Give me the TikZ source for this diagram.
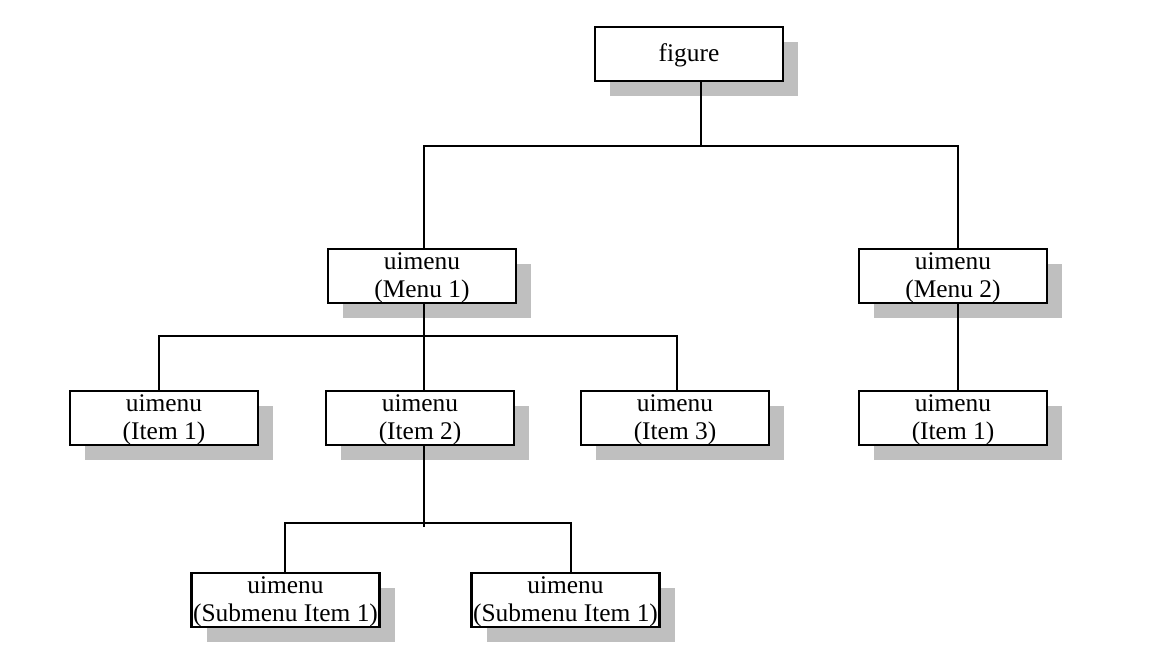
\documentclass[tikz,border=0pt]{standalone}
\usepackage{fontspec}
\setmainfont{Liberation Serif}
\usepackage{tikz}
\usetikzlibrary{shadows, calc}

\tikzset{
  menubox/.style={draw, line width=1.1pt, fill=white, minimum width=94pt, minimum height=27pt,
    inner sep=0pt, align=center, text height=24pt, text depth=2.8pt,
    font=\fontsize{12.7pt}{13.7pt}\selectfont,
    general shadow={fill=black!25, shadow xshift=7.5pt, shadow yshift=-7.5pt}},
  link/.style={line width=1pt}
}

\begin{document}
\begin{tikzpicture}[x=0.5pt, y=-0.5pt]
\useasboundingbox (0,0) rectangle (1165,651);
\clip (0,0) rectangle (1165,651);

% top
\node[menubox, text height=10pt] (fig) at (689,54) {figure};

% menus
\node[menubox] (m1) at (422,276) {uimenu\\(Menu 1)};
\node[menubox] (m2) at (953,276) {uimenu\\(Menu 2)};

% items
\node[menubox] (i1) at (164,418) {uimenu\\(Item 1)};
\node[menubox] (i2) at (420,418) {uimenu\\(Item 2)};
\node[menubox] (i3) at (675,418) {uimenu\\(Item 3)};
\node[menubox] (i4) at (953,418) {uimenu\\(Item 1)};

% submenu items
\node[menubox] (s1) at (285.5,600) {uimenu\\(Submenu Item 1)};
\node[menubox] (s2) at (565.5,600) {uimenu\\(Submenu Item 1)};

% caption, cut off by the page edge
\node[font=\fontsize{12.7pt}{15pt}\selectfont] (cap) at (571,664) {(b)};

% buses
\coordinate (b1) at (701,146);
\coordinate (b1l) at (424,146);
\coordinate (b1r) at (958,146);
\coordinate (b2l) at (159,336);
\coordinate (b2m) at (424,336);
\coordinate (b2r) at (677,336);
\coordinate (b3m) at (424,527);
\coordinate (b3l) at (285,523);
\coordinate (b3r) at (571,523);

\draw[link] (b1 |- fig.south) -- (b1);
\draw[link] (b1l |- m1.north) -- (b1l) -- (b1r) -- (b1r |- m2.north);
\draw[link] (b2m |- m1.south) -- (b2m);
\draw[link] (b2l |- i1.north) -- (b2l) -- (b2r) -- (b2r |- i3.north);
\draw[link] (b2m) -- (b2m |- i2.north);
\draw[link] (b1r |- m2.south) -- (b1r |- i4.north);
\draw[link] (b3m |- i2.south) -- (b3m);
\draw[link] (b3l |- s1.north) -- (b3l) -- (b3r) -- (b3r |- s2.north);
\end{tikzpicture}
\end{document}
